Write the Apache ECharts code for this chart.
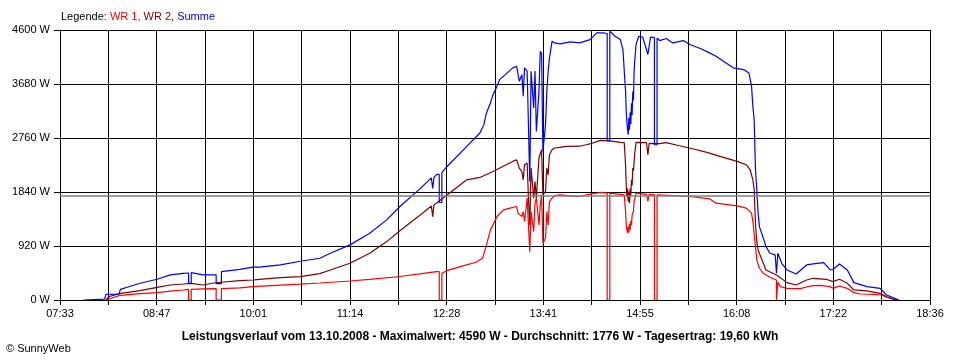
<!DOCTYPE html>
<html>
<head>
<meta charset="utf-8">
<script src="https://cdn.jsdelivr.net/npm/echarts@6/dist/echarts.min.js"></script>
<style>
html,body{margin:0;padding:0;background:#fff;}
#chart{width:960px;height:360px;}
</style>
</head>
<body>
<div id="chart"></div>
<script>
// ---- Axis labels ----
const xTickLabels = ['07:33','08:47','10:01','11:14','12:28','13:41','14:55','16:08','17:22','18:36'];
const yMax = 4600;
const yStep = 920;
const avgValue = 1776;

const titleText = 'Leistungsverlauf vom 13.10.2008 - Maximalwert: 4590 W - Durchschnitt: 1776 W - Tagesertrag: 19,60 kWh';
const copyrightText = '\u00A9 SunnyWeb';

// ---- Series data: [time, watts] ----
const wr1 = [
  ["08:08",0],["08:09",30],["08:19",80],["08:34",110],["08:47",125],["08:57",150],["09:07",170],
  ["09:11",182],["09:11",0],["09:13",0],["09:13",182],["09:22",188],["09:32",193],["09:32",0],["09:36",0],["09:36",195],
  ["09:50",205],["10:00",227],["10:21",255],["10:36",270],["10:51",290],["11:14",324],["11:29",350],["11:52",400],
  ["12:07",444],["12:20",483],["12:22",483],["12:22",0],["12:24",0],["12:24",455],["12:28",500],["12:38",568],
  ["12:50",643],["12:55",711],["12:58",939],["13:01",1195],["13:03",1280],["13:06",1422],["13:11",1536],["13:16",1565],
  ["13:21",1593],["13:22",1480],["13:25",1422],["13:26",1507],["13:27",1337],["13:29",1736],["13:31",824],["13:32",1507],
  ["13:34",1166],["13:35",1650],["13:36",1736],["13:38",1280],["13:39",1622],["13:40",1792],["13:41",968],["13:43",1053],
  ["13:44",1507],["13:45",1280],["13:46",1678],["13:48",1736],["13:50",1780],["13:54",1792],["14:02",1775],["14:09",1763],
  ["14:17",1804],["14:25",1832],["14:30",1820],["14:30",0],["14:32",0],["14:32",1820],["14:40",1800],["14:43",1792],
  ["14:44",1500],["14:44:30",1280],["14:45",1200],["14:45:30",1138],["14:46",1250],["14:46:30",1150],["14:47",1300],
  ["14:47:30",1200],["14:48",1350],["14:48:30",1280],["14:49",1450],["14:50",1507],["14:50:30",1680],["14:51",1720],
  ["14:52",1820],["15:00",1800],["15:01",1678],["15:02",1800],["15:06",1795],["15:06",0],["15:08",0],["15:08",1790],
  ["15:20",1780],["15:33",1763],["15:48",1724],["15:53",1650],["16:09",1604],["16:16",1565],["16:20",1480],["16:21",1337],
  ["16:23",910],["16:24",683],["16:26",541],["16:29",455],["16:34",387],["16:39",341],["16:39",0],["16:40",0],["16:40",300],
  ["16:42",227],["16:47",199],["16:57",193],["17:05",239],["17:12",250],["17:20",227],["17:22",199],["17:27",239],
  ["17:33",199],["17:38",125],["17:43",102],["17:53",97],["17:59",85],["18:03",46],["18:08",12],["18:12",0]
];

const wr2 = [
  ["08:08",0],["08:09",29],["08:10",56],["08:19",114],["08:34",159],["08:47",216],["08:57",256],["09:07",273],
  ["09:13",284],["09:22",256],["09:30",290],["09:36",302],["09:50",330],["10:00",341],["10:05",353],["10:21",381],
  ["10:36",398],["10:51",450],["10:59",512],["11:14",626],["11:29",797],["11:42",995],["11:52",1180],["12:07",1440],
  ["12:16",1600],["12:17",1420],["12:18",1620],["12:28",1790],["12:43",2048],["12:53",2088],["13:03",2190],["13:13",2304],
  ["13:18",2361],["13:21",2390],["13:23",2248],["13:25",2190],["13:26",2048],["13:27",2304],["13:29",2333],["13:30",1736],
  ["13:31",1280],["13:32",2248],["13:34",1736],["13:35",2020],["13:36",1736],["13:38",2419],["13:39",2419],["13:40",2560],
  ["13:41",1792],["13:43",1850],["13:44",2248],["13:45",2133],["13:46",2475],["13:48",2560],["13:50",2590],["13:54",2600],
  ["13:59",2617],["14:09",2620],["14:14",2645],["14:19",2674],["14:25",2719],["14:35",2702],["14:40",2685],["14:43",2680],
  ["14:44",2300],["14:44:30",1950],["14:45",1750],["14:45:30",1900],["14:46",1680],["14:46:30",1850],["14:47",1650],
  ["14:47:30",1900],["14:48",1780],["14:48:30",2050],["14:49",1950],["14:49:30",2250],["14:50",2200],["14:51",2500],
  ["14:52",2685],["15:00",2680],["15:01",2475],["15:02",2670],["15:10",2663],["15:15",2680],["15:25",2628],["15:36",2572],
  ["15:46",2515],["15:56",2446],["16:09",2361],["16:16",2304],["16:19",2219],["16:21",2048],["16:22",1877],["16:23",1300],
  ["16:24",1000],["16:25",853],["16:28",683],["16:31",512],["16:39",427],["16:47",296],["16:54",256],["17:02",341],
  ["17:07",370],["17:17",353],["17:22",313],["17:27",353],["17:33",284],["17:38",171],["17:48",154],["17:58",114],
  ["18:03",56],["18:09",12],["18:12",0]
];

const summe = [
  ["07:51",0],["07:52",10],["08:07",15],["08:08",97],["08:18",100],["08:19",182],["08:26",230],["08:34",285],["08:47",353],
  ["08:57",427],["09:07",455],["09:11",460],["09:11",285],["09:13",285],["09:13",465],["09:22",427],["09:32",430],
  ["09:32",280],["09:36",280],["09:36",483],["09:50",523],["10:00",560],["10:05",560],["10:21",597],["10:36",660],
  ["10:51",711],["10:59",797],["11:14",939],["11:29",1138],["11:42",1365],["11:52",1593],["12:07",1889],["12:16",2080],
  ["12:17",1900],["12:18",2090],["12:20",2140],["12:22",2140],["12:22",1661],["12:24",1661],["12:24",2170],["12:28",2275],
  ["12:43",2617],["12:53",2845],["12:56",2987],["12:58",3187],["13:01",3357],["13:03",3499],["13:06",3641],["13:08",3755],
  ["13:13",3852],["13:18",3955],["13:21",3982],["13:23",3726],["13:25",3840],["13:26",3470],["13:27",3955],["13:29",3900],
  ["13:31",2020],["13:32",3897],["13:34",3272],["13:35",3900],["13:36",2873],["13:38",3555],["13:39",4238],["13:40",4200],
  ["13:41",2531],["13:43",2987],["13:44",3555],["13:45",3897],["13:46",4125],["13:48",4409],["13:50",4380],["13:54",4363],
  ["14:02",4397],["14:09",4380],["14:17",4437],["14:22",4551],["14:27",4551],["14:30",4540],["14:30",2714],["14:32",2714],
  ["14:32",4580],["14:36",4494],["14:40",4437],["14:42",4267],["14:43",3900],["14:44",3555],["14:44:30",3200],["14:45",3043],
  ["14:45:30",2900],["14:46",2816],["14:46:30",3100],["14:47",2900],["14:47:30",3200],["14:48",3000],["14:48:30",3350],
  ["14:49",3150],["14:49:30",3550],["14:50",3400],["14:50:30",3900],["14:51",4067],["14:52",4352],["14:54",4494],
  ["14:57",4480],["15:01",4182],["15:03",4480],["15:06",4470],["15:06",2645],["15:08",2645],["15:08",4460],["15:10",4420],
  ["15:15",4455],["15:20",4380],["15:28",4420],["15:33",4352],["15:41",4284],["15:48",4210],["15:53",4153],["16:06",3955],
  ["16:14",3926],["16:18",3869],["16:20",3641],["16:21",3299],["16:22",3072],["16:23",2219],["16:24",1877],["16:25",1480],
  ["16:26",1251],["16:29",1053],["16:31",910],["16:34",797],["16:38",768],["16:39",768],["16:39",455],["16:40",455],
  ["16:40",797],["16:43",626],["16:47",512],["16:54",444],["17:02",597],["17:07",614],["17:15",637],["17:20",512],
  ["17:22",520],["17:27",614],["17:33",512],["17:38",296],["17:48",227],["17:58",199],["18:03",85],["18:11",12],["18:12",0]
];

// ---- helpers ----
function toMin(s){ const p=s.split(':').map(Number); return p[0]*60+p[1]+(p[2]||0)/60; }
const tStart = toMin(xTickLabels[0]);
const tEnd = toMin(xTickLabels[xTickLabels.length-1]);
const nSteps = (xTickLabels.length-1)*2;           // gridline every half label step
const stepMin = (tEnd - tStart)/nSteps;
function conv(arr){ return arr.map(d => [(toMin(d[0]) - tStart)/stepMin, d[1]]); }

const FONT = '"Liberation Sans", Arial, sans-serif';
const N = {fontSize:11, fontFamily:FONT, fontWeight:'normal'};
const chart = echarts.init(document.getElementById('chart'), null, {renderer:'canvas'});
chart.setOption({
  animation:false,
  backgroundColor:'#ffffff',
  title:[{
    left:61, top:11, padding:0,
    text:'{k|Legende: }{a|WR 1, }{b|WR 2, }{c|Summe}',
    textStyle:{fontWeight:'normal', fontSize:11, fontFamily:FONT, rich:{
      k:Object.assign({color:'#000'}, N),
      a:Object.assign({color:'#ff0000'}, N),
      b:Object.assign({color:'#800000'}, N),
      c:Object.assign({color:'#0000ff'}, N)
    }}
  },{
    left:'center', top:331, padding:0,
    text:titleText,
    textStyle:{color:'#000', fontSize:12, fontWeight:'bold', fontFamily:FONT}
  },{
    left:6, top:343, padding:0,
    text:copyrightText,
    textStyle:{color:'#000', fontSize:11, fontWeight:'normal', fontFamily:FONT}
  }],
  grid:{left:60, right:30, top:30, bottom:60, containLabel:false},
  xAxis:{
    type:'value', min:0, max:nSteps, interval:1,
    axisLine:{show:true, lineStyle:{color:'#000', width:1}},
    axisTick:{show:true, length:5, lineStyle:{color:'#000'}},
    splitLine:{show:true, lineStyle:{color:'#000', width:1}},
    axisLabel:{
      show:true, margin:8, color:'#000', fontSize:11, fontFamily:FONT,
      showMinLabel:true, showMaxLabel:true,
      formatter:function(v){ const i=Math.round(v); return (i%2===0)? (xTickLabels[i/2]||'') : ''; }
    }
  },
  yAxis:{
    type:'value', min:0, max:yMax, interval:yStep,
    axisLine:{show:true, lineStyle:{color:'#000', width:1}},
    axisTick:{show:true, length:6, lineStyle:{color:'#000'}},
    splitLine:{show:true, lineStyle:{color:'#000', width:1}},
    axisLabel:{margin:10, color:'#000', fontSize:11, fontFamily:FONT, formatter:v => v + ' W'}
  },
  series:[{
    name:'WR 1', type:'line', data:conv(wr1), showSymbol:false, symbol:'none',
    lineStyle:{color:'#ff0000', width:1.2}, itemStyle:{color:'#ff0000'},
    markLine:{silent:true, symbol:'none', label:{show:false},
      lineStyle:{color:'#808080', width:1.5, type:'solid'}, data:[{yAxis:avgValue}]}
  },{
    name:'WR 2', type:'line', data:conv(wr2), showSymbol:false, symbol:'none',
    lineStyle:{color:'#800000', width:1.2}, itemStyle:{color:'#800000'}
  },{
    name:'Summe', type:'line', data:conv(summe), showSymbol:false, symbol:'none',
    lineStyle:{color:'#0000ff', width:1.2}, itemStyle:{color:'#0000ff'}
  }]
});
</script>
</body>
</html>
